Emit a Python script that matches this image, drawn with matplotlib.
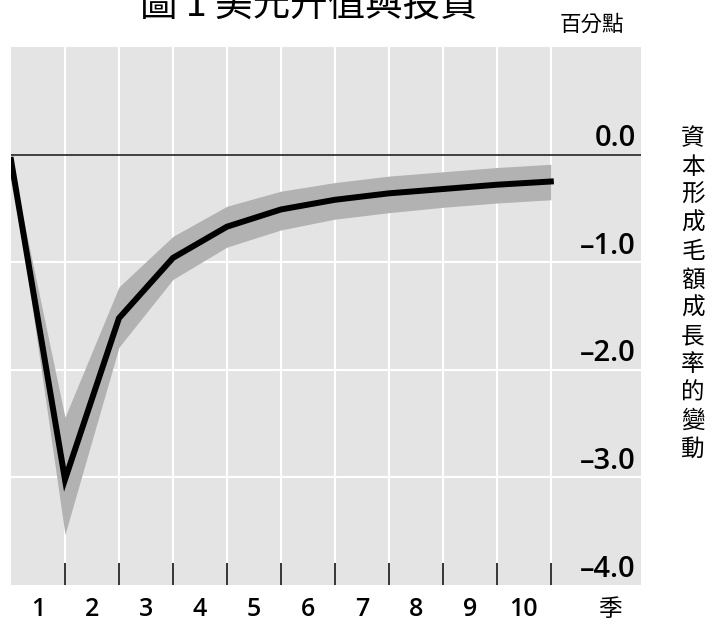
import matplotlib.pyplot as plt
import numpy as np

# quarters after the shock (0 = impact)
quarters = [0, 1, 2, 3, 4, 5, 6, 7, 8, 9, 10]
response = [-0.05, -3.02, -1.52, -0.96, -0.67, -0.51, -0.42, -0.36, -0.32, -0.28, -0.25]
band_lo = [-0.05, -3.53, -1.79, -1.16, -0.86, -0.70, -0.60, -0.54, -0.49, -0.45, -0.42]
band_hi = [-0.05, -2.44, -1.23, -0.76, -0.48, -0.34, -0.26, -0.20, -0.16, -0.12, -0.09]

x_labels = ['1', '2', '3', '4', '5', '6', '7', '8', '9', '10']
y_values = [0.0, -1.0, -2.0, -3.0, -4.0]
y_labels = ['0.0', '\u20131.0', '\u20132.0', '\u20133.0', '\u20134.0']

title = '圖 1 美元升值與投資'
unit = '百分點'
side_label = '資本形成毛額成長率的變動'
x_unit = '季'

cjk = ['Noto Sans CJK TC', 'DejaVu Sans']
num_font = ['Open Sans', 'DejaVu Sans']

fig = plt.figure(figsize=(7.13, 6.34), dpi=100)
ax = fig.add_axes([11 / 713, 49 / 634, 630 / 713, 538 / 634])
ax.set_facecolor('#e4e4e4')

ax.fill_between(quarters, band_lo, band_hi, color='#b2b2b2', lw=0, zorder=2)
ax.plot(quarters, response, color='black', lw=4.3, zorder=3, solid_joinstyle='miter')
ax.axhline(0, color='#333333', lw=1.3, zorder=2.5)

ax.set_xlim(0, 11.67)
ax.set_ylim(-4, 1)

ax.set_xticks(range(1, 11))
ax.set_xticks(np.arange(0.5, 10), minor=True)
ax.set_xticklabels([], minor=False)
ax.set_xticklabels(x_labels, minor=True, fontsize=18, fontweight='semibold', family=num_font)
ax.tick_params(axis='x', which='major', direction='in', length=16, width=1.1, color='black')
ax.tick_params(axis='x', which='minor', length=0, pad=9)
ax.set_yticks([-3, -2, -1])
ax.tick_params(axis='y', left=False, labelleft=False)
ax.grid(True, which='major', color='white', lw=1.5, zorder=1)
ax.set_axisbelow(True)
for sp in ax.spines.values():
    sp.set_visible(False)

for v, lab in zip(y_values, y_labels):
    ax.annotate(lab, (11.57, v), xytext=(0, 6), textcoords='offset points',
                ha='right', va='baseline', fontsize=21, fontweight='semibold', family=num_font)

ax.text(11.1, -0.025, x_unit, transform=ax.get_xaxis_transform(), ha='center', va='top',
        fontsize=17, family=cjk)

fig.text(309 / 713, 1 - 6 / 634, title, ha='center', va='center', fontsize=27, family=cjk)
fig.text(592 / 713, 1 - 25 / 634, unit, ha='center', va='center', fontsize=15.5, family=cjk)
fig.text(693 / 713, 1 - 294 / 634, '\n'.join(side_label), ha='center', va='center',
         fontsize=17, family=cjk, linespacing=1.29)

fig.savefig('out.png', dpi=100)
